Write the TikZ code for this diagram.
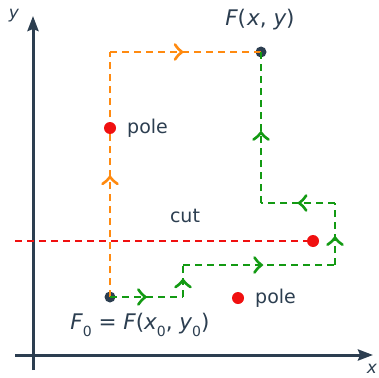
\documentclass[tikz,border=0pt]{standalone}
\usepackage{fontspec}
\setmainfont{DejaVu Sans}
\usetikzlibrary{arrows.meta,decorations.markings}
\definecolor{axiscol}{HTML}{2C3E50}
\definecolor{orangec}{HTML}{FF8A10}
\definecolor{greenc}{HTML}{139A13}
\definecolor{redc}{HTML}{F01010}
\newcommand\lbsub[1]{\raisebox{-0.3em}{\fontsize{14}{16}\selectfont #1}}
\tikzset{
  axis/.style={line width=3pt, draw=axiscol, -{Stealth[length=15pt,width=11pt,inset=2pt]}},
  pathline/.style={line width=2.8pt, dash pattern=on 7pt off 5pt},
  orangeline/.style={pathline, draw=orangec},
  greenline/.style={pathline, draw=greenc},
  cutline/.style={line width=2.8pt, draw=redc, dash pattern=on 7pt off 5pt},
  midarrow/.style={postaction={decorate}, decoration={markings,
     mark=at position #1 with {\draw[solid, line width=2.6pt, line cap=round]
       (-4.5pt,7.5pt) .. controls (-2pt,4pt) and (0pt,1.5pt) .. (2.5pt,0pt)
       .. controls (0pt,-1.5pt) and (-2pt,-4pt) .. (-4.5pt,-7.5pt);}}},
  midarrow/.default=0.5,
  darkdot/.style={circle, fill=axiscol, inner sep=0pt, minimum size=11pt},
  reddot/.style={circle, fill=redc, inner sep=0pt, minimum size=12pt},
  lbl/.style={text=axiscol, font=\fontsize{19}{22}\selectfont, inner sep=0pt},
  mlbl/.style={text=axiscol, font=\fontsize{21.5}{25}\selectfont, inner sep=0pt},
  axlbl/.style={text=axiscol, font=\fontsize{17}{20}\selectfont, inner sep=0pt},
}
\begin{document}
\begin{tikzpicture}[x=1pt,y=-1pt]
\useasboundingbox (0,0) rectangle (379,377);
% axes
\coordinate (yb) at (33,370);
\coordinate (yt) at (33,16);
\coordinate (xl) at (15,355);
\coordinate (xr) at (373,355);
\draw[axis] (yb) -- (yt);
\draw[axis] (xl) -- (xr);
\node[axlbl] (ylab) at (14,16) {\itshape y};
\node[axlbl] (xlab) at (372,369) {\itshape x};
% points
\node[darkdot] (f0) at (110,297) {};
\node[darkdot] (fxy) at (261,52) {};
% orange path
\coordinate (o1) at (110,52);
\draw[orangeline, midarrow=0.48] (f0.center) -- (o1);
\draw[orangeline, midarrow=0.46] (o1) -- (fxy.center);
% green path
\coordinate (g1) at (183,297);
\coordinate (g2) at (183,265);
\coordinate (g3) at (335,265);
\coordinate (g4) at (335,203);
\coordinate (g5) at (261,203);
\draw[greenline, midarrow=0.45] (f0.center) -- (g1);
\draw[greenline, midarrow=0.45] (g1) -- (g2);
\draw[greenline, midarrow=0.5] (g2) -- (g3);
\draw[greenline, midarrow=0.4] (g3) -- (g4);
\draw[greenline, midarrow=0.45] (g4) -- (g5);
\draw[greenline, midarrow=0.45] (g5) -- (fxy.center);
% cut
\coordinate (cl) at (15,241);
\node[reddot] (pc) at (313,241) {};
\draw[cutline] (cl) -- (pc.center);
\node[reddot] (p1) at (110,128) {};
\node[reddot] (p2) at (238,298) {};
% labels
\node[lbl, anchor=west] (p1lab) at (127,128) {pole};
\node[lbl, anchor=west] (p2lab) at (255,298) {pole};
\node[lbl] (cutlab) at (185,216) {cut};
\node[mlbl] (fxylab) at (260,20) {{\itshape F}(\kern1pt{\itshape x}, {\itshape y})};
\node[mlbl] (f0lab) at (140,325) {{\itshape F}\lbsub{0} = {\itshape F}({\itshape x}\lbsub{0}, {\itshape y}\lbsub{0})};
\end{tikzpicture}
\end{document}
